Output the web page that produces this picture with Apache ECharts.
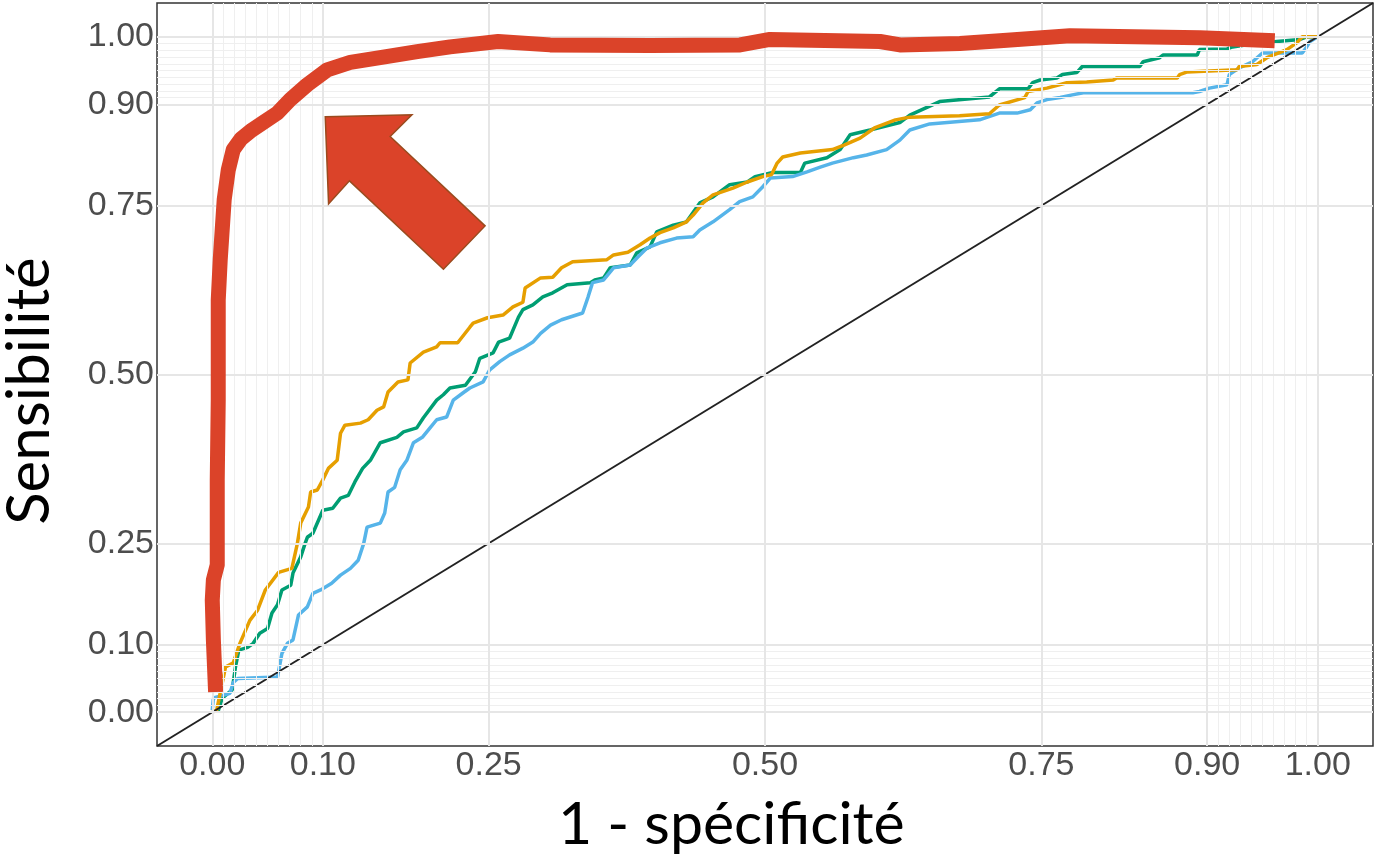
<!DOCTYPE html>
<html>
<head>
<meta charset="utf-8">
<script src="https://cdn.jsdelivr.net/npm/echarts@6/dist/echarts.min.js"></script>
<style>
html,body{margin:0;padding:0;background:#fff;}
#chart{width:1375px;height:865px;}
</style>
</head>
<body>
<div id="chart"></div>
<script>
// ---- tick labels / breaks ----
const tickValues = [0, 0.10, 0.25, 0.50, 0.75, 0.90, 1.00];
const minorValues = [0.01,0.02,0.03,0.04,0.05,0.06,0.07,0.08,0.09,0.91,0.92,0.93,0.94,0.95,0.96,0.97,0.98,0.99];
const xTitle = "1 - spécificité";
const yTitle = "Sensibilité";

// ---- ROC curves (1 - specificity, sensitivity) ----
const greenFpr = [0.005,0.009,0.018,0.021,0.024,0.032,0.037,0.043,0.050,0.054,0.059,0.063,0.071,0.073,0.080,0.084,0.086,0.091,0.100,0.109,0.116,0.123,0.129,0.136,0.143,0.152,0.167,0.173,0.185,0.191,0.203,0.209,0.215,0.229,0.238,0.242,0.254,0.259,0.269,0.277,0.281,0.290,0.299,0.308,0.321,0.342,0.346,0.354,0.360,0.378,0.384,0.396,0.402,0.417,0.429,0.441,0.453,0.468,0.484,0.491,0.507,0.532,0.536,0.556,0.568,0.577,0.595,0.622,0.631,0.658,0.703,0.712,0.738,0.742,0.749,0.764,0.769,0.782,0.787,0.839,0.842,0.857,0.860,0.891,0.893,0.918,0.923,0.936,0.963,0.984,0.990,1.000];
const greenTpr = [0.000,0.021,0.033,0.067,0.092,0.096,0.102,0.117,0.124,0.147,0.159,0.181,0.188,0.206,0.230,0.250,0.259,0.265,0.299,0.302,0.317,0.321,0.341,0.361,0.373,0.399,0.407,0.415,0.421,0.436,0.462,0.470,0.480,0.484,0.504,0.524,0.532,0.548,0.554,0.585,0.596,0.603,0.615,0.621,0.633,0.636,0.640,0.643,0.658,0.662,0.680,0.689,0.711,0.721,0.726,0.754,0.763,0.781,0.785,0.793,0.799,0.799,0.813,0.821,0.833,0.855,0.862,0.873,0.884,0.904,0.911,0.923,0.923,0.932,0.936,0.939,0.944,0.947,0.956,0.956,0.963,0.969,0.973,0.973,0.981,0.982,0.985,0.988,0.993,0.996,1.000,1.000];

const orangeFpr = [0.000,0.004,0.012,0.019,0.025,0.034,0.041,0.048,0.060,0.072,0.077,0.080,0.087,0.089,0.095,0.100,0.105,0.113,0.116,0.120,0.134,0.141,0.149,0.155,0.159,0.168,0.177,0.179,0.191,0.203,0.206,0.222,0.233,0.236,0.249,0.263,0.272,0.281,0.283,0.297,0.308,0.316,0.326,0.357,0.363,0.376,0.387,0.396,0.405,0.417,0.429,0.435,0.444,0.453,0.471,0.484,0.498,0.506,0.511,0.516,0.532,0.561,0.572,0.586,0.599,0.618,0.631,0.676,0.703,0.712,0.735,0.738,0.755,0.773,0.791,0.815,0.818,0.873,0.875,0.882,0.927,0.929,0.945,0.954,0.972,0.981,0.986,1.000];
const orangeTpr = [0.000,0.003,0.067,0.073,0.102,0.136,0.151,0.181,0.207,0.213,0.250,0.280,0.304,0.326,0.329,0.344,0.361,0.373,0.413,0.425,0.428,0.433,0.447,0.452,0.474,0.489,0.492,0.517,0.533,0.541,0.547,0.547,0.570,0.576,0.584,0.588,0.600,0.607,0.628,0.643,0.644,0.658,0.667,0.670,0.677,0.681,0.692,0.702,0.710,0.717,0.726,0.736,0.754,0.766,0.776,0.785,0.793,0.796,0.813,0.822,0.828,0.833,0.840,0.850,0.865,0.877,0.881,0.883,0.886,0.899,0.910,0.919,0.924,0.932,0.933,0.936,0.939,0.939,0.944,0.948,0.951,0.956,0.959,0.969,0.981,0.991,1.000,1.000];

const blueFpr = [0.000,0.001,0.016,0.019,0.023,0.059,0.063,0.068,0.073,0.078,0.086,0.091,0.098,0.108,0.116,0.125,0.132,0.137,0.140,0.152,0.156,0.159,0.165,0.170,0.176,0.182,0.190,0.197,0.203,0.212,0.218,0.227,0.233,0.245,0.251,0.260,0.269,0.281,0.290,0.297,0.306,0.316,0.335,0.340,0.344,0.354,0.363,0.378,0.385,0.393,0.405,0.420,0.435,0.441,0.453,0.468,0.477,0.489,0.498,0.505,0.525,0.538,0.550,0.561,0.580,0.592,0.610,0.622,0.631,0.649,0.694,0.712,0.728,0.740,0.746,0.755,0.767,0.778,0.788,0.887,0.893,0.902,0.918,0.920,0.929,0.941,0.950,0.986,0.990,0.993,1.000];
const blueTpr = [0.003,0.021,0.028,0.044,0.050,0.052,0.087,0.102,0.107,0.144,0.156,0.176,0.181,0.191,0.203,0.213,0.225,0.250,0.274,0.280,0.295,0.326,0.333,0.359,0.373,0.399,0.407,0.421,0.433,0.437,0.462,0.473,0.480,0.489,0.507,0.519,0.529,0.539,0.548,0.561,0.573,0.581,0.591,0.615,0.636,0.640,0.658,0.662,0.674,0.687,0.695,0.702,0.704,0.714,0.726,0.744,0.756,0.763,0.778,0.791,0.793,0.800,0.807,0.813,0.821,0.825,0.833,0.847,0.862,0.871,0.877,0.887,0.887,0.892,0.902,0.907,0.910,0.914,0.917,0.917,0.919,0.924,0.929,0.944,0.954,0.963,0.976,0.976,0.985,0.993,1.000];

// ---- hand-drawn highlight curve and arrow (annotation) ----
const redFpr = [0.003,0.001,0.000,0.001,0.0045,0.0045,0.0054,0.0054,0.0072,0.0108,0.0145,0.019,0.026,0.036,0.0461,0.0588,0.0705,0.0859,0.104,0.1248,0.1546,0.1854,0.2152,0.2586,0.3056,0.396,0.4774,0.5045,0.604,0.6221,0.6763,0.7125,0.7758,0.8933,0.9611];
const redTpr = [0.030,0.107,0.166,0.196,0.218,0.344,0.462,0.610,0.670,0.759,0.803,0.833,0.849,0.862,0.873,0.887,0.907,0.929,0.951,0.962,0.970,0.978,0.985,0.993,0.988,0.987,0.988,0.996,0.993,0.988,0.990,0.994,1.0015,0.9985,0.994];
const arrowFpr = [0.1022,0.1806,0.1609,0.2468,0.2091,0.1241,0.1052];
const arrowTpr = [0.8815,0.8844,0.8523,0.7200,0.6559,0.7867,0.7526];

// diagonal reference line
const diagX = [-0.05, 1.05];
const diagY = [-0.05, 1.05];

const zip = (a, b) => a.map((v, i) => [v, b[i]]);

const chart = echarts.init(document.getElementById('chart'), null, {renderer: 'canvas'});

const tickFmt = v => Number(v).toFixed(2);
const labelFont = {fontFamily: 'Liberation Sans, Arial, sans-serif', fontSize: 34, color: '#4D4D4D'};

const gridLineData = [];
tickValues.forEach(v => { gridLineData.push({xAxis: v}); gridLineData.push({yAxis: v}); });
const minorLineData = [];
minorValues.forEach(v => { minorLineData.push({xAxis: v}); minorLineData.push({yAxis: v}); });

const option = {
  animation: false,
  backgroundColor: '#ffffff',
  grid: {left: 157, right: 2, top: 3, bottom: 119, show: true, borderColor: '#333333', borderWidth: 1.5, backgroundColor: 'transparent'},
  xAxis: {
    type: 'value', min: -0.05, max: 1.05,
    splitLine: {show: false},
    axisLine: {show: true, lineStyle: {color: '#333333', width: 1.5}},
    axisTick: {show: true, customValues: tickValues, length: 7, lineStyle: {color: '#333333', width: 1.5}},
    axisLabel: Object.assign({customValues: tickValues, formatter: tickFmt, margin: 3}, labelFont)
  },
  yAxis: {
    type: 'value', min: -0.05, max: 1.05,
    splitLine: {show: false},
    axisLine: {show: true, lineStyle: {color: '#333333', width: 1.5}},
    axisTick: {show: true, customValues: tickValues, length: 7, lineStyle: {color: '#333333', width: 1.5}},
    axisLabel: Object.assign({customValues: tickValues, formatter: tickFmt, margin: 3}, labelFont)
  },
  graphic: [
    {type: 'text', left: 558, top: 795, style: {text: xTitle, font: '59px Lato, "Open Sans", sans-serif', fill: '#000'}},
    {type: 'text', x: 30, y: 391, rotation: Math.PI / 2, style: {text: yTitle, font: '60px Lato, "Open Sans", sans-serif', fill: '#000', textAlign: 'center', textVerticalAlign: 'middle'}}
  ],
  series: [
    {type: 'line', name: 'minorGrid', data: [], z: 0, silent: true,
     markLine: {silent: true, symbol: ['none', 'none'], label: {show: false}, animation: false,
       lineStyle: {color: '#EFEFEF', width: 1, type: 'solid'}, data: minorLineData}},
    {type: 'line', name: 'majorGrid', data: [], z: 0, silent: true,
     markLine: {silent: true, symbol: ['none', 'none'], label: {show: false}, animation: false,
       lineStyle: {color: '#E6E6E6', width: 2, type: 'solid'}, data: gridLineData}},
    {type: 'line', name: 'green', data: zip(greenFpr, greenTpr), showSymbol: false, z: 3,
     lineStyle: {color: '#009E73', width: 3.5}, itemStyle: {color: '#009E73'}},
    {type: 'line', name: 'blue', data: zip(blueFpr, blueTpr), showSymbol: false, z: 3,
     lineStyle: {color: '#56B4E9', width: 3.5}, itemStyle: {color: '#56B4E9'}},
    {type: 'line', name: 'orange', data: zip(orangeFpr, orangeTpr), showSymbol: false, z: 3,
     lineStyle: {color: '#E69F00', width: 3.5}, itemStyle: {color: '#E69F00'}},
    {type: 'line', name: 'diag', data: zip(diagX, diagY), showSymbol: false, z: 4,
     lineStyle: {color: '#222222', width: 2}},
    {type: 'line', name: 'highlight', data: zip(redFpr, redTpr), showSymbol: false, z: 5,
     lineStyle: {color: '#DB4329', width: 15, cap: 'butt', join: 'round'}},
    {type: 'custom', name: 'arrow', z: 5, data: [[arrowFpr[0], arrowTpr[0]]],
     renderItem: function (params, api) {
       const pts = zip(arrowFpr, arrowTpr).map(p => api.coord(p));
       return {type: 'polygon', shape: {points: pts},
               style: {fill: '#DB4329', stroke: '#9A4B1E', lineWidth: 1.5}};
     }}
  ]
};
chart.setOption(option);
</script>
</body>
</html>
